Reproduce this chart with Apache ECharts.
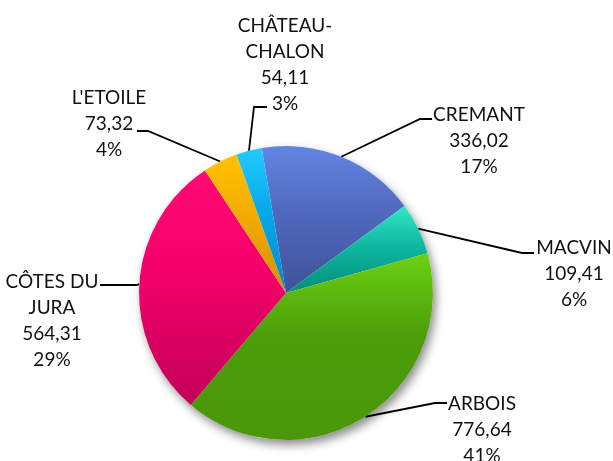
<!DOCTYPE html>
<html>
<head>
    <meta charset="utf-8">
    <script src="https://cdn.jsdelivr.net/npm/echarts@6/dist/echarts.min.js"></script>
</head>
<body style="margin: 0; background: #fff">
<div id="main" style="width: 613px; height: 461px"></div>
<script type="text/javascript">
    // data
    var names = ['CREMANT', 'MACVIN', 'ARBOIS', 'CÔTES DU\nJURA', "L'ETOILE", 'CHÂTEAU-\nCHALON'];
    var values = [336.02, 109.41, 776.64, 564.31, 73.32, 54.11];

    // gradient colours, top -> bottom of each slice
    var colorTop = ['#6385e3', '#34e6c6', '#6cd212', '#ff0a74', '#ffc200', '#22caff'];
    var colorMid = ['#5069bd', '#10b8a0', '#4c9c0a', '#f2006a', '#f4ab00', '#06a8e8'];
    var colorBottom = ['#3f5199', '#008e7c', '#4a9808', '#c2005a', '#d88e00', '#0088c8'];

    // label placement: text centre x, first text line centre y, elbow x, line end x, line y
    var labelPlaces = [
        [479, 115, 420, 432, 119],
        [574, 248, 522, 534, 253],
        [482, 404, 435, 447, 403],
        [52, 282, 137, 100, 285],
        [109, 98, 148, 137, 131],
        [285, 26, 254, 267, 107]
    ];

    var LINE_H = 26;

    var total = values.reduce(function (a, b) { return a + b; }, 0);

    var pieData = names.map(function (n, i) {
        return {
            name: n,
            value: values[i],
            itemStyle: {
                color: new echarts.graphic.LinearGradient(0, 0, 0, 1, [
                    {offset: 0, color: colorTop[i]},
                    {offset: 0.45, color: colorMid[i]},
                    {offset: 1, color: colorBottom[i]}
                ])
            }
        };
    });

    var chart = echarts.init(document.getElementById('main'), null, {renderer: 'canvas'});

    var option = {
        animation: false,
        backgroundColor: '#fff',
        series: [
            {
                // soft shadow under the pie
                type: 'pie',
                silent: true,
                z: 1,
                center: [286, 293],
                radius: 147,
                label: {show: false},
                labelLine: {show: false},
                itemStyle: {
                    color: '#fff',
                    shadowBlur: 10,
                    shadowColor: 'rgba(0,0,0,0.45)',
                    shadowOffsetX: 3,
                    shadowOffsetY: 5
                },
                data: [{value: total, name: ''}]
            },
            {
                type: 'pie',
                z: 2,
                center: [286, 293],
                radius: 147,
                startAngle: 99.5,
                clockwise: true,
                percentPrecision: 0,
                avoidLabelOverlap: false,
                itemStyle: {borderWidth: 0},
                label: {
                    show: true,
                    color: '#111',
                    fontFamily: 'Lato',
                    fontSize: 19,
                    lineHeight: LINE_H,
                    overflow: 'none',
                    formatter: function (p) {
                        return p.name + '\n' + p.value.toFixed(2).replace('.', ',') + '\n' + p.percent + '%';
                    }
                },
                labelLine: {
                    show: true,
                    length: 4,
                    length2: 4,
                    lineStyle: {color: '#000', width: 1.8}
                },
                labelLayout: function (params) {
                    var lp = labelPlaces[params.dataIndex];
                    var p0 = params.labelLinePoints[0];
                    return {
                        x: lp[0],
                        y: lp[1] - LINE_H / 2,
                        align: 'center',
                        verticalAlign: 'top',
                        labelLinePoints: [p0, [lp[2], lp[4]], [lp[3], lp[4]]]
                    };
                },
                emphasis: {disabled: true},
                data: pieData
            }
        ]
    };

    chart.setOption(option);
</script>
</body>
</html>
